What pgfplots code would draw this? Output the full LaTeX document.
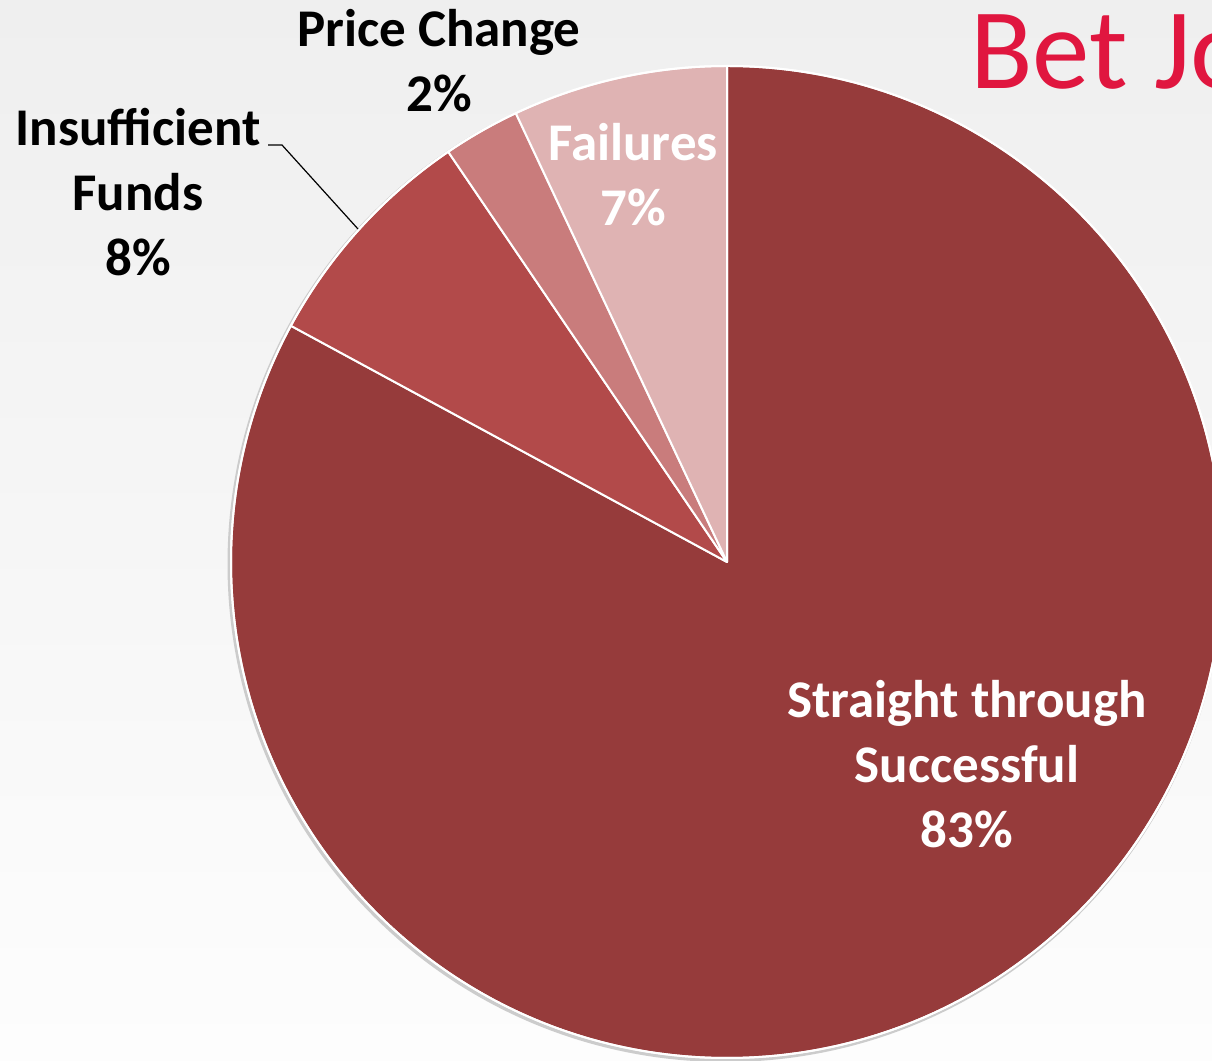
\documentclass[border=0pt]{standalone}
\usepackage{pgfplots}
\usepackage{pgfplotstable}
\usepackage{fontspec}
\setmainfont{Carlito}
\pgfplotsset{compat=1.18}
\definecolor{slice0}{RGB}{150,59,59}
\definecolor{slice1}{RGB}{178,74,74}
\definecolor{slice2}{RGB}{201,124,124}
\definecolor{slice3}{RGB}{223,179,179}
\definecolor{titlered}{RGB}{224,22,63}
\definecolor{bgtop}{RGB}{239,239,239}
\definecolor{bgbot}{RGB}{253,253,253}
\pgfplotstableread{
label value
Straight 82.9
Insufficient 7.6
Price 2.5
Failures 7.0
}\piedata
\begin{document}
\begin{tikzpicture}
\begin{axis}[
  scale only axis, width=606pt, height=530.5pt,
  xmin=0, xmax=1212, ymin=0, ymax=1061,
  hide axis, clip=true]
\shade[top color=bgtop, bottom color=bgbot] (axis cs:0,0) rectangle (axis cs:1212,1061);
\fill[black!20] (axis cs:725.5,497) circle[radius=249pt];
\def\startangle{90}
\pgfplotsforeachungrouped \i in {0,...,3}{%
  \pgfplotstablegetelem{\i}{value}\of\piedata
  \pgfmathsetmacro\endangle{\startangle - 3.6*\pgfplotsretval}%
  \edef\temp{\noexpand\fill[slice\i, draw=white, line width=1pt, line join=round]
    (axis cs:727,499) -- (axis cs:{727+496*cos(\startangle)},{499+496*sin(\startangle)})
    arc[start angle=\startangle, end angle=\endangle, radius=248pt] -- cycle;}%
  \temp
  \let\startangle\endangle
}
\draw[white, line width=1pt] (axis cs:727,499) circle[radius=248pt];
\draw[black, line width=0.6pt] (axis cs:268,916) -- (axis cs:282,916) -- (axis cs:358,832);
\node[anchor=base west, text=titlered, font=\fontsize{57.5}{60}\selectfont, inner sep=0pt] at (axis cs:970,972) {Bet Jo};
\tikzset{lab/.style={align=center, font=\fontsize{26.5}{32.5}\selectfont\bfseries, inner sep=0pt}}
\node[lab, text=black] at (axis cs:439,1000) {Price Change\\2\%};
\node[lab, text=black] at (axis cs:138,869) {Insufficient\\Funds\\8\%};
\node[lab, text=white] at (axis cs:633,886) {Failures\\7\%};
\node[lab, text=white] at (axis cs:967,297) {Straight through\\Successful\\83\%};
\end{axis}
\pgfresetboundingbox
\path[use as bounding box] (current axis.south west) rectangle (current axis.north east);
\end{tikzpicture}
\end{document}
